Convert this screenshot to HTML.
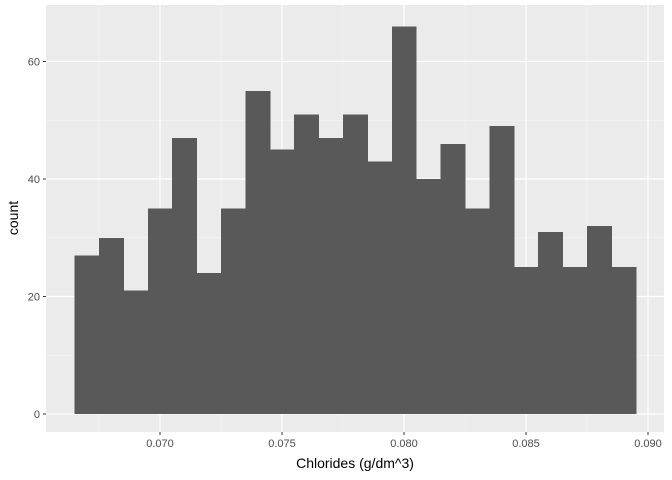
<!DOCTYPE html>
<html><head><meta charset="utf-8"><style>
body{margin:0;background:#fff;}
svg{display:block;font-family:"Liberation Sans",Arial,sans-serif;}
</style></head><body>
<svg id="chart" width="672" height="480">
<rect x="46" y="5" width="618" height="427" fill="#ebebeb"/>
<g id="grid"></g><g id="bars" shape-rendering="crispEdges"></g><g id="axes"></g>
<text x="355" y="468" text-anchor="middle" font-size="14" fill="#000">Chlorides (g/dm^3)</text>
<text transform="translate(18,218) rotate(-90)" text-anchor="middle" font-size="14" fill="#000">count</text>
</svg>
<script>
const binStart = 0.0665;
const binWidth = 0.001;
const counts = [27,30,21,35,47,24,35,55,45,51,47,51,43,66,40,46,35,49,25,31,25,32,25];
const xTicks = [0.070,0.075,0.080,0.085,0.090];
const xTickLabels = ["0.070","0.075","0.080","0.085","0.090"];
const yTicks = [0,20,40,60];
const NS="http://www.w3.org/2000/svg";
const X=v=>160+(v-0.070)*24400;
const Y=v=>414-v*5.875;
const L=46,R=664,T=5,B=432;
function mk(t,a,p){const e=document.createElementNS(NS,t);for(const k in a)e.setAttribute(k,a[k]);p.appendChild(e);return e;}
const grid=document.getElementById('grid'),bars=document.getElementById('bars'),axes=document.getElementById('axes');
for(let i=0;i<yTicks.length;i++){const v=yTicks[i]+10;const y=Y(v);if(y>T){const l=mk('line',{x1:L,x2:R,y1:y,y2:y,stroke:'#f5f5f5','stroke-width':0.6},grid);}}
for(let i=-1;i<xTicks.length;i++){const v=(i<0?xTicks[0]-0.005:xTicks[i])+0.0025;const x=X(v);if(x>L&&x<R){const l=mk('line',{x1:x,x2:x,y1:T,y2:B,stroke:'#f5f5f5','stroke-width':0.6},grid);}}
yTicks.forEach(v=>{const y=Y(v);const l=mk('line',{x1:L,x2:R,y1:y,y2:y,stroke:'#fff','stroke-width':1.2},grid);


const t=mk('line',{x1:L-3,x2:L,y1:y,y2:y,stroke:'#333'},axes);


const tx=mk('text',{x:L-6,y:y+4,'text-anchor':'end','font-size':11,fill:'#4d4d4d'},axes);tx.textContent=v;

});
xTicks.forEach((v,i)=>{const x=X(v);const l=mk('line',{x1:x,x2:x,y1:T,y2:B,stroke:'#fff','stroke-width':1.2},grid);


const t=mk('line',{x1:x,x2:x,y1:B,y2:B+3,stroke:'#333'},axes);


const tx=mk('text',{x:x,y:B+15,'text-anchor':'middle','font-size':11,fill:'#4d4d4d'},axes);tx.textContent=xTickLabels[i];

});
counts.forEach((c,i)=>{const x0=X(binStart+i*binWidth),x1=X(binStart+(i+1)*binWidth);
const r=mk('rect',{x:x0,y:Y(c),width:x1-x0+0.5,height:Y(0)-Y(c),fill:'#595959'},bars);

});
</script>
</body></html>
